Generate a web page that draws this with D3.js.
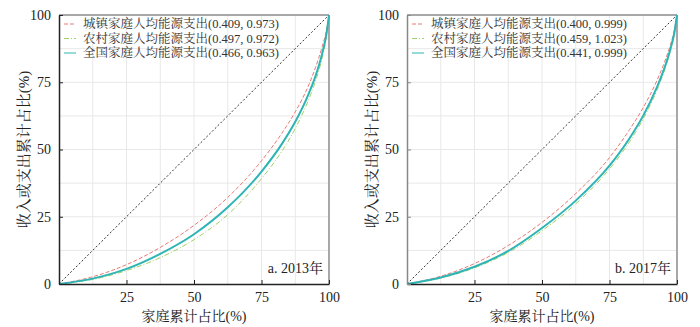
<!DOCTYPE html>
<html><head><meta charset="utf-8">
<script src="https://cdn.jsdelivr.net/npm/d3@7/dist/d3.min.js"></script>
<style>
body{margin:0;background:#fff;}
text{font-family:"Liberation Serif","Times New Roman","Noto Serif CJK SC","Noto Sans CJK SC",serif;}
</style></head>
<body><svg id="c" width="700" height="327"></svg>
<script>
// Cumulative household share (%)
const xPts = [0, 12.5, 25, 37.5, 50, 62.5, 75, 82.5, 87.5, 92.5, 95, 97.5, 99, 100];
// 2013
const urban2013 = [0, 2.7, 7.2, 13.6, 21.8, 32.2, 45.8, 56.0, 64.0, 74.0, 80.5, 88.3, 94.1, 100];
const rural2013 = [0, 1.7, 5.0, 9.8, 16.5, 25.8, 39.2, 49.3, 57.8, 68.6, 75.4, 84.2, 91.6, 100];
const all2013   = [0, 2.0, 5.6, 11.2, 18.5, 28.5, 41.8, 52.0, 60.3, 70.8, 77.3, 85.8, 92.6, 100];
// 2017
const urban2017 = [0, 2.9, 7.6, 14.3, 22.9, 33.6, 47.0, 57.5, 65.6, 75.5, 81.5, 88.7, 94.3, 100];
const rural2017 = [0, 2.2, 6.0, 11.7, 19.8, 29.8, 42.8, 53.0, 61.4, 71.9, 78.4, 86.4, 92.8, 100];
const all2017   = [0, 2.4, 6.4, 12.3, 20.8, 31.0, 44.0, 54.3, 62.6, 73.0, 79.3, 87.2, 93.3, 100];
const legend2013 = ["城镇家庭人均能源支出(0.409, 0.973)", "农村家庭人均能源支出(0.497, 0.972)", "全国家庭人均能源支出(0.466, 0.963)"];
const legend2017 = ["城镇家庭人均能源支出(0.400, 0.999)", "农村家庭人均能源支出(0.459, 1.023)", "全国家庭人均能源支出(0.441, 0.999)"];
const panelLabels = ["a. 2013年", "b. 2017年"];
const tickValues = [0, 25, 50, 75, 100];
const gridValues = [12.5, 25, 37.5, 50, 62.5, 75, 87.5];
const xTitle = "家庭累计占比(%)";
const yTitle = "收入或支出累计占比(%)";

const styles = [
  {color:"#e87a78", dash:"4,2", width:1},
  {color:"#9fd167", dash:"5,2,1,2", width:1},
  {color:"#2eb4b4", dash:null, width:2}
];

const panels = [
  {left:59, top:15, w:270, h:269, series:[urban2013, rural2013, all2013], legend:legend2013, label:panelLabels[0], yAxisColor:"#222", titleX:24},
  {left:407, top:15, w:270, h:269, series:[urban2017, rural2017, all2017], legend:legend2017, label:panelLabels[1], yAxisColor:"#888", titleX:372}
];

const svg = d3.select("#c");

panels.forEach(p => {
  const x = d3.scaleLinear().domain([0,100]).range([p.left, p.left + p.w]);
  const y = d3.scaleLinear().domain([0,100]).range([p.top + p.h, p.top]);
  const g = svg.append("g");

  // grid
  g.selectAll(".gx").data(gridValues).enter().append("line")
    .attr("x1", d => x(d)).attr("x2", d => x(d)).attr("y1", y(0)).attr("y2", y(100))
    .attr("stroke", "#e8e8e8").attr("stroke-width", 1);
  g.selectAll(".gy").data(gridValues).enter().append("line")
    .attr("y1", d => y(d)).attr("y2", d => y(d)).attr("x1", x(0)).attr("x2", x(100))
    .attr("stroke", "#e8e8e8").attr("stroke-width", 1);

  // top/right frame
  g.append("line").attr("x1", x(0)).attr("x2", x(100)).attr("y1", y(100)).attr("y2", y(100))
    .attr("stroke", "#a8a8a8").attr("stroke-width", 2);
  g.append("line").attr("x1", x(100)).attr("x2", x(100)).attr("y1", y(0)).attr("y2", y(100))
    .attr("stroke", "#a8a8a8").attr("stroke-width", 2);

  // diagonal
  g.append("line").attr("x1", x(0)).attr("y1", y(0)).attr("x2", x(100)).attr("y2", y(100))
    .attr("stroke", "#333").attr("stroke-width", 1).attr("stroke-dasharray", "2,2");

  // curves
  const line = d3.line().x((d,i) => x(xPts[i])).y(d => y(d)).curve(d3.curveMonotoneX);
  [1, 0, 2].forEach(k => {
    g.append("path").datum(p.series[k]).attr("d", line)
      .attr("fill", "none").attr("stroke", styles[k].color)
      .attr("stroke-width", styles[k].width)
      .attr("stroke-dasharray", styles[k].dash);
  });

  // axes
  const xAxis = d3.axisBottom(x).tickValues(tickValues).tickSizeInner(-4).tickSizeOuter(0).tickPadding(8)
    .tickFormat(d => d === 0 ? "" : d);
  const xa = g.append("g").attr("transform", `translate(0,${y(0)})`).call(xAxis);
  xa.select(".domain").attr("stroke", "#222").attr("stroke-width", 1.5);
  xa.selectAll(".tick line").attr("stroke", "#222");
  xa.selectAll("text").attr("font-size", 14).attr("fill", "#222")
    .attr("font-family", "Liberation Serif");

  const yAxis = d3.axisLeft(y).tickValues(tickValues).tickSizeInner(-4).tickSizeOuter(0).tickPadding(8);
  const ya = g.append("g").attr("transform", `translate(${x(0)},0)`).call(yAxis);
  ya.select(".domain").attr("stroke", p.yAxisColor).attr("stroke-width", 1.5);
  ya.selectAll(".tick line").attr("stroke", p.yAxisColor);
  ya.selectAll("text").attr("font-size", 14).attr("fill", "#222")
    .attr("font-family", "Liberation Serif");

  // titles
  g.append("text").attr("x", x(50)).attr("y", 321).attr("text-anchor", "middle")
    .attr("font-size", 14).attr("fill", "#222").text(xTitle);
  g.append("text").attr("transform", `translate(${p.titleX},${y(50)}) rotate(-90)`)
    .attr("text-anchor", "middle").attr("dy", "0.35em")
    .attr("font-size", 15).attr("fill", "#222").text(yTitle);

  // legend
  p.legend.forEach((t, i) => {
    const ly = p.top + 9 + i * 14.5;
    g.append("line").attr("x1", x(0) + 5).attr("x2", x(0) + 17).attr("y1", ly).attr("y2", ly)
      .attr("stroke", styles[i].color).attr("stroke-width", 1)
      .attr("stroke-dasharray", styles[i].dash);
    g.append("text").attr("x", x(0) + 24).attr("y", ly).attr("dy", "0.35em")
      .attr("font-size", 12.5).attr("fill", "#333").text(t);
  });

  // panel label
  g.append("text").attr("x", x(100) - 6).attr("y", y(0) - 16).attr("dy", "0.35em")
    .attr("text-anchor", "end").attr("font-size", 14).attr("fill", "#222").text(p.label);
});
</script></body></html>
